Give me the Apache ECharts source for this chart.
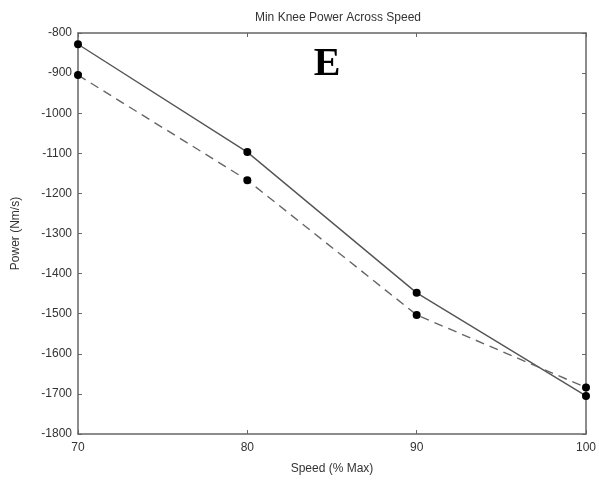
<!DOCTYPE html>
<html>
<head>
<meta charset="utf-8">
<script src="https://cdn.jsdelivr.net/npm/echarts@6/dist/echarts.min.js"></script>
<style>
  html, body { margin: 0; padding: 0; background: #fff; }
  #chart { width: 599px; height: 483px; }
</style>
</head>
<body>
<div id="chart"></div>
<script>
// Speed levels (% of max) and minimum knee power for the two conditions
var speeds = [70, 80, 90, 100];
var solidPower = [-828, -1097, -1448, -1705];
var dashedPower = [-905, -1167, -1503, -1684];
var yTicks = [-1800, -1700, -1600, -1500, -1400, -1300, -1200, -1100, -1000, -900, -800];

var axisColor = '#666';
var textColor = '#333';
var font = 'Liberation Sans, Arial, sans-serif';

function pairs(xs, ys) {
  return xs.map(function (x, i) { return [x, ys[i]]; });
}

var chart = echarts.init(document.getElementById('chart'), null, { renderer: 'canvas' });

var baseX = {
  type: 'value', min: 70, max: 100, interval: 10,
  axisLine: { show: true, onZero: false, lineStyle: { color: axisColor, width: 1.5 } },
  axisTick: { show: true, inside: true, length: 4, lineStyle: { color: axisColor } },
  splitLine: { show: false }
};
var baseY = {
  type: 'value', min: yTicks[0], max: yTicks[yTicks.length - 1], interval: 100,
  axisLine: { show: true, onZero: false, lineStyle: { color: axisColor, width: 1.5 } },
  axisTick: { show: true, inside: true, length: 4, lineStyle: { color: axisColor } },
  splitLine: { show: false }
};

chart.setOption({
  animation: false,
  backgroundColor: '#fff',
  title: [
    {
      text: 'Min Knee Power Across Speed',
      left: 333, top: 7, textAlign: 'center',
      textStyle: { fontFamily: font, fontSize: 12, fontWeight: 'normal', color: textColor }
    },
    {
      text: 'E',
      left: 322, top: 40, textAlign: 'center',
      textStyle: { fontFamily: 'Liberation Serif, Times New Roman, serif', fontSize: 40, fontWeight: 'bold', color: '#000' }
    }
  ],
  grid: { left: 78, right: 12, top: 33, bottom: 49, containLabel: false },
  xAxis: [
    Object.assign({}, baseX, {
      position: 'bottom',
      name: 'Speed (% Max)', nameLocation: 'middle', nameGap: 29,
      nameTextStyle: { fontFamily: font, fontSize: 12, color: textColor },
      axisLabel: { fontFamily: font, fontSize: 12, color: textColor, margin: 8,
        formatter: function (v) { return String(v); } }
    }),
    Object.assign({}, baseX, { position: 'top', axisLabel: { show: false } })
  ],
  yAxis: [
    Object.assign({}, baseY, {
      position: 'left',
      name: 'Power (Nm/s)', nameLocation: 'middle', nameGap: 56,
      nameTextStyle: { fontFamily: font, fontSize: 12, color: textColor },
      axisLabel: { fontFamily: font, fontSize: 12, color: textColor, margin: 6,
        formatter: function (v) { return String(v); } }
    }),
    Object.assign({}, baseY, { position: 'right', axisLabel: { show: false } })
  ],
  series: [
    {
      type: 'line', data: pairs(speeds, solidPower),
      symbol: 'circle', symbolSize: 8,
      itemStyle: { color: '#000' },
      lineStyle: { color: '#555', width: 1.4, type: 'solid' }
    },
    {
      type: 'line', data: pairs(speeds, dashedPower),
      symbol: 'circle', symbolSize: 8,
      itemStyle: { color: '#000' },
      lineStyle: { color: '#666', width: 1.4, type: [9, 6] }
    }
  ]
});
</script>
</body>
</html>
